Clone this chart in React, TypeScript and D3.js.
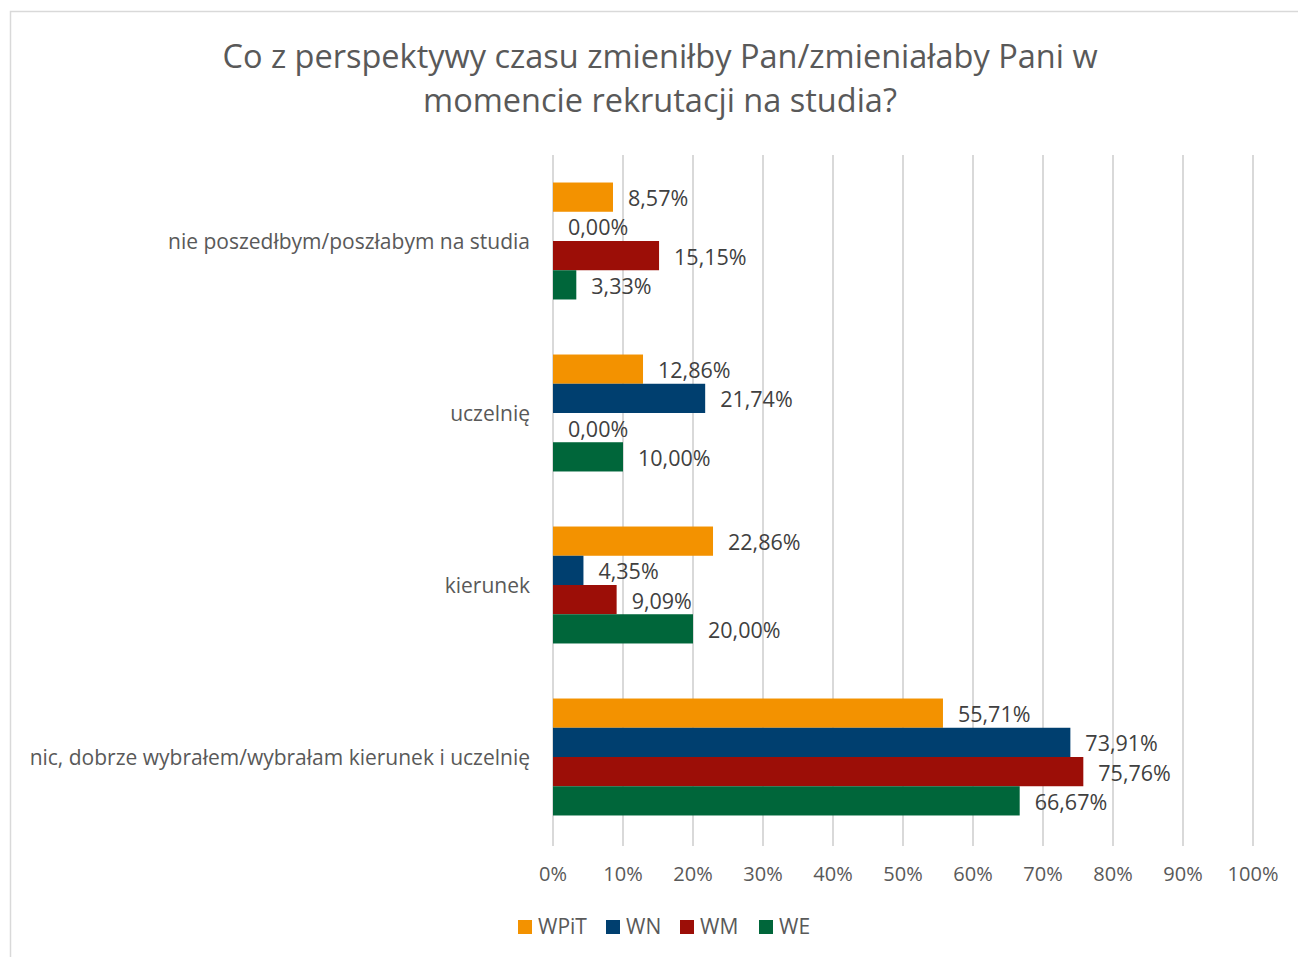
import * as d3 from "d3";

const categories = [
  "nie poszedłbym/poszłabym na studia",
  "uczelnię",
  "kierunek",
  "nic, dobrze wybrałem/wybrałam kierunek i uczelnię",
];
const seriesNames = ["WPiT", "WN", "WM", "WE"];
const seriesColors = ["#F39200", "#003F6F", "#9C0E07", "#00663A"];
const wpit = [8.57, 12.86, 22.86, 55.71];
const wn = [0, 21.74, 4.35, 73.91];
const wm = [15.15, 0, 9.09, 75.76];
const we = [3.33, 10.0, 20.0, 66.67];
const seriesValues = [wpit, wn, wm, we];
const ticks = [0, 10, 20, 30, 40, 50, 60, 70, 80, 90, 100];

const W = 1298;
const H = 957;
const plot = { left: 553, right: 1253, top: 155, bottom: 843 };
const font = "'Open Sans', sans-serif";

const fmt = (v: number) => v.toFixed(2).replace(".", ",") + "%";

export default function App() {
  const x = d3.scaleLinear().domain([0, 100]).range([plot.left, plot.right]);
  const y0 = d3
    .scaleBand<string>()
    .domain(categories)
    .range([plot.top, plot.bottom])
    .paddingInner(0.32)
    .paddingOuter(0.16);
  const y1 = d3
    .scaleBand<string>()
    .domain(seriesNames)
    .range([0, y0.bandwidth()]);

  return (
    <svg
      width={W}
      height={H}
      style={{ position: "absolute", left: 0, top: 0, background: "#fff" }}
    >
      <rect x={10.5} y={11.5} width={W + 20} height={H + 20} fill="none" stroke="#D9D9D9" strokeWidth={1.5} />
      <text fill="#595959" fontFamily={font} fontSize={32.5} textAnchor="middle">
        <tspan x={660} y={68}>Co z perspektywy czasu zmieniłby Pan/zmieniałaby Pani w</tspan>
        <tspan x={660} y={112}>momencie rekrutacji na studia?</tspan>
      </text>

      {ticks.map((t) => (
        <g key={t}>
          <line x1={x(t)} x2={x(t)} y1={plot.top} y2={plot.bottom + 3} stroke="#D9D9D9" strokeWidth={2} />
          <text x={x(t)} y={881} textAnchor="middle" fill="#595959" fontFamily={font} fontSize={20}>
            {t}%
          </text>
        </g>
      ))}

      {categories.map((c, ci) => (
        <g key={c} transform={`translate(0,${y0(c)})`}>
          <text
            x={530}
            y={y0.bandwidth() / 2 + 1}
            dy="0.35em"
            textAnchor="end"
            fill="#595959"
            fontFamily={font}
            fontSize={21}
          >
            {c}
          </text>
          {seriesNames.map((s, si) => {
            const v = seriesValues[si][ci];
            const by = y1(s)!;
            return (
              <g key={s}>
                {v > 0 && (
                  <rect
                    x={x(0)}
                    y={by}
                    width={x(v) - x(0)}
                    height={y1.bandwidth()}
                    fill={seriesColors[si]}
                  />
                )}
                <text
                  x={x(v) + 15}
                  y={by + y1.bandwidth() / 2 + 1.5}
                  dy="0.35em"
                  fill="#404040"
                  fontFamily={font}
                  fontSize={21.5}
                >
                  {fmt(v)}
                </text>
              </g>
            );
          })}
        </g>
      ))}

      <g transform="translate(518,920)">
        {seriesNames.map((s, i) => {
          const offs = [0, 88, 162, 241];
          return (
            <g key={s} transform={`translate(${offs[i]},0)`}>
              <rect width={14} height={14} fill={seriesColors[i]} />
              <text x={20} y={7} dy="0.35em" fill="#595959" fontFamily={font} fontSize={21}>
                {s}
              </text>
            </g>
          );
        })}
      </g>
    </svg>
  );
}
